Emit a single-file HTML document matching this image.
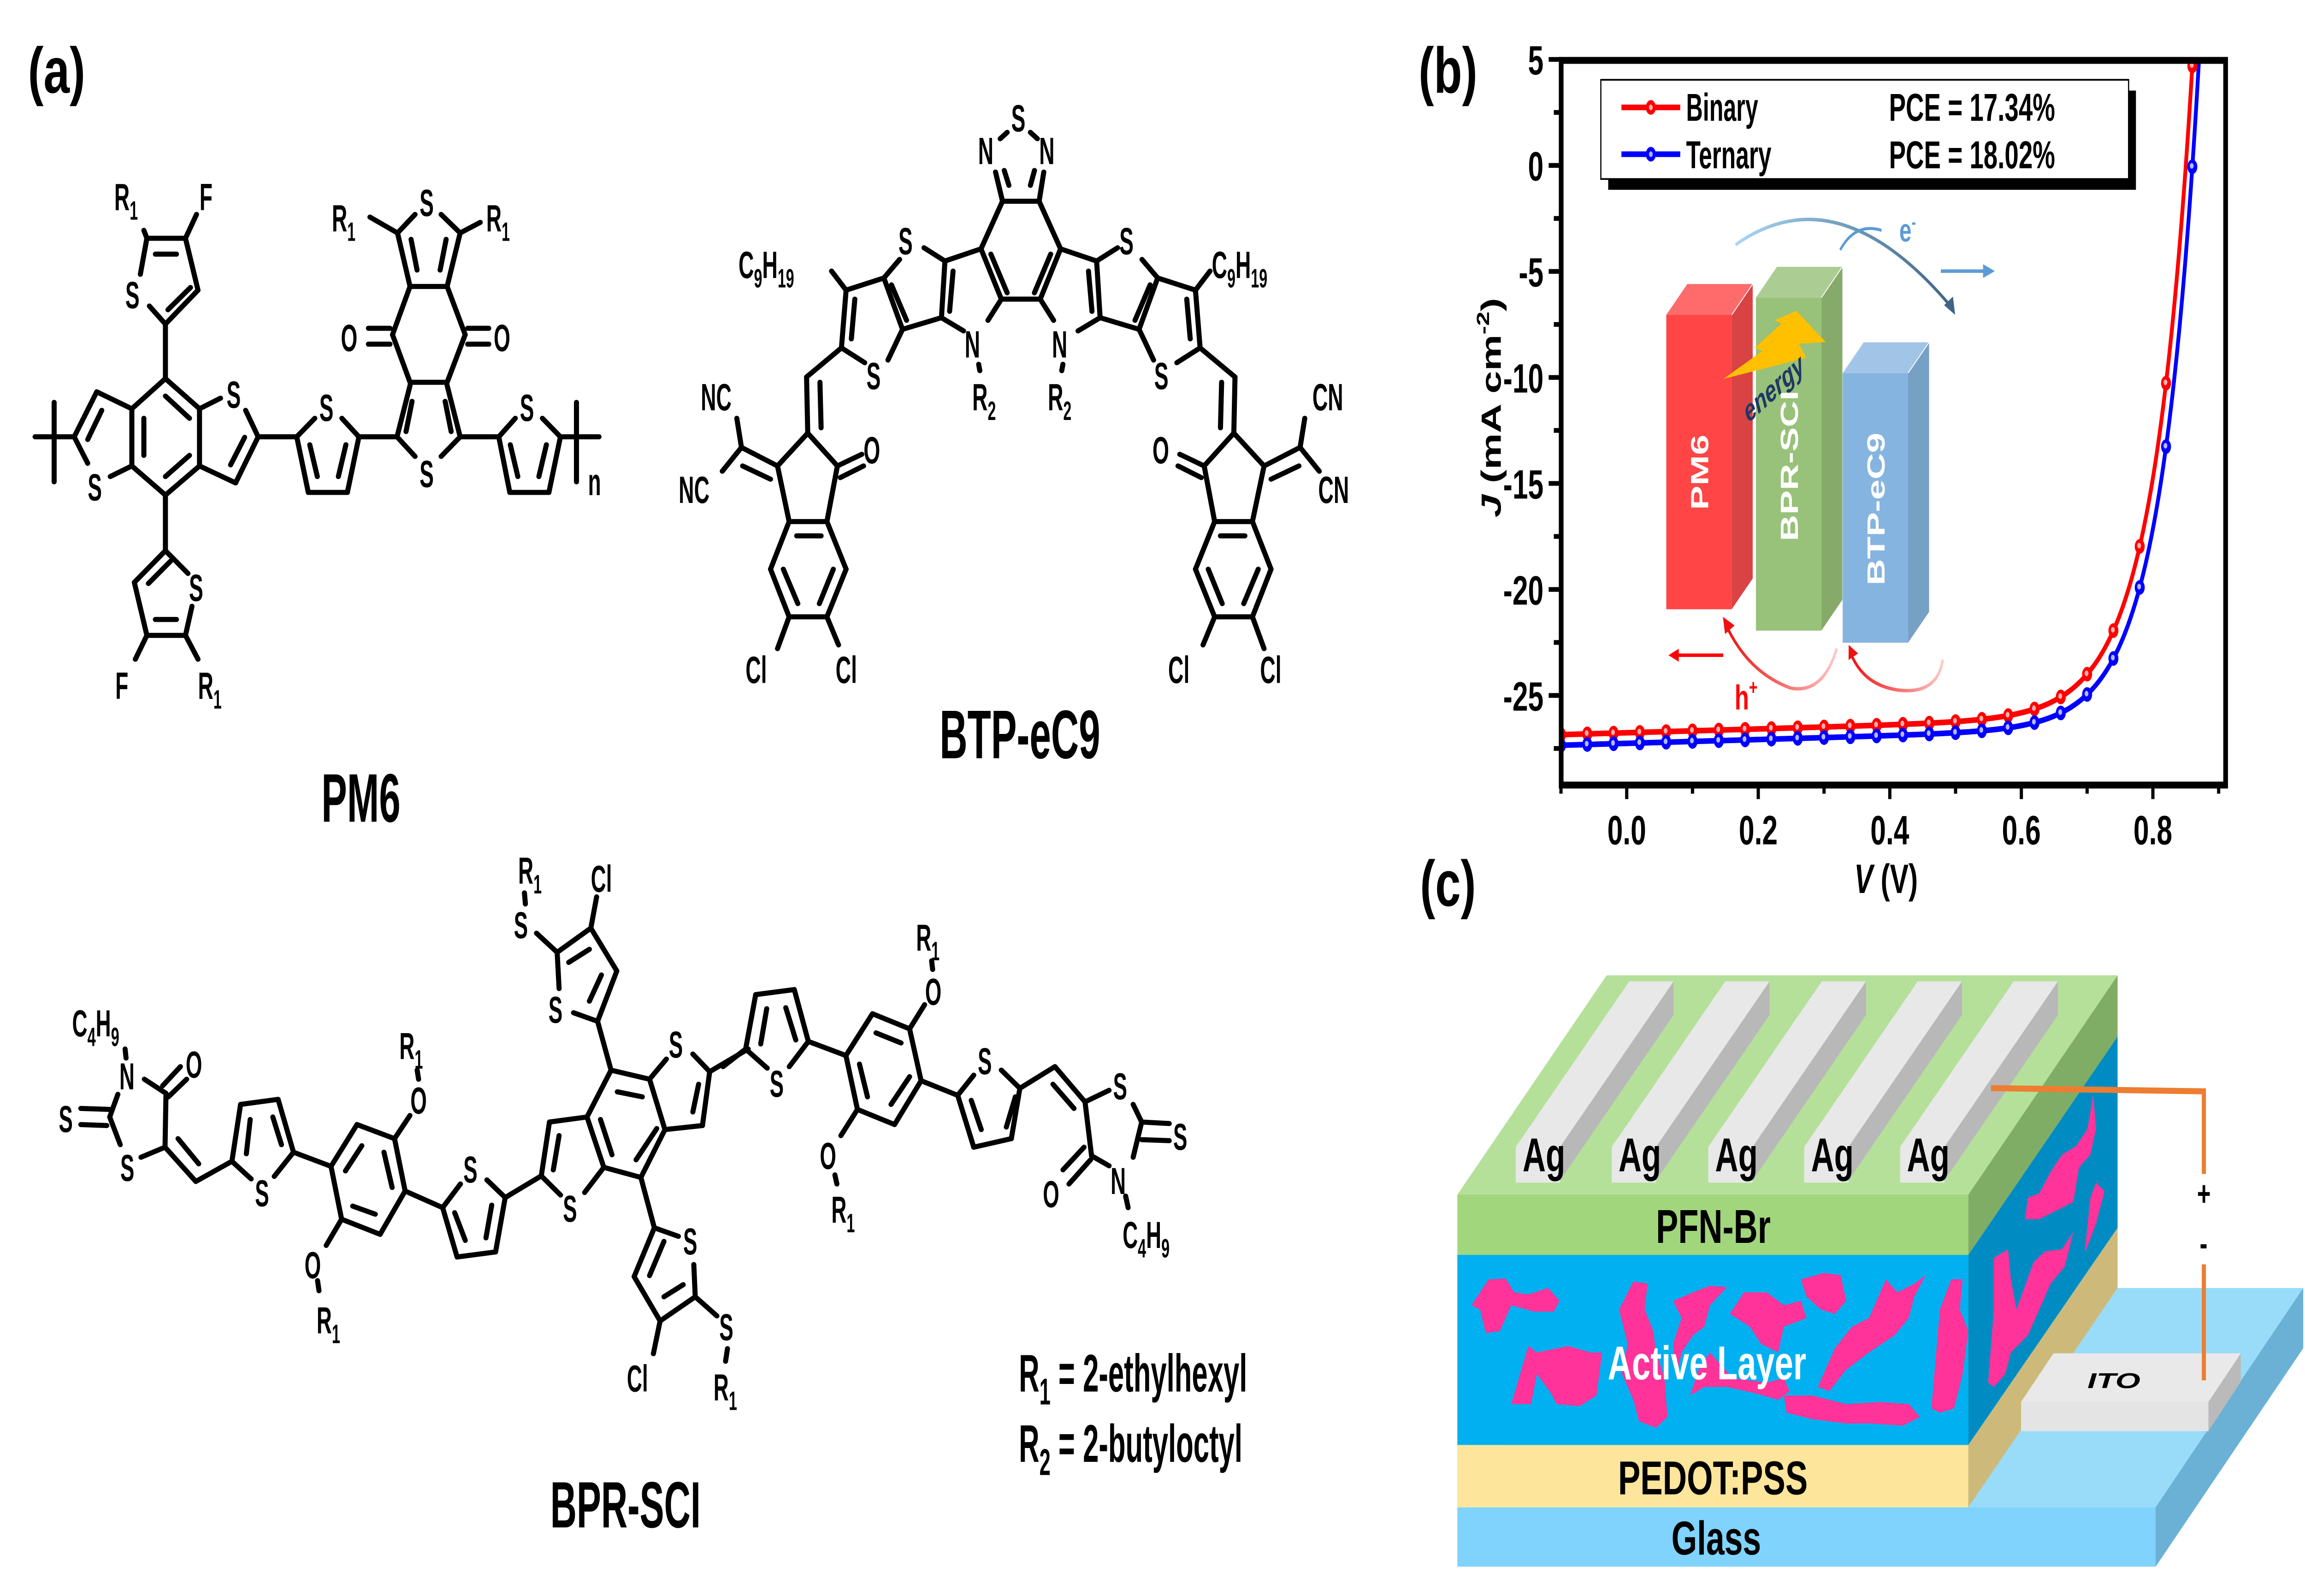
<!DOCTYPE html>
<html><head><meta charset="utf-8">
<style>
html,body{margin:0;padding:0;background:#fff;overflow:hidden;width:100%;height:100%;}
svg{display:block;width:100vw;height:100vh;}
text{font-family:"Liberation Sans",Arial,sans-serif;}
</style></head>
<body>
<svg id="s" xmlns="http://www.w3.org/2000/svg" viewBox="0 0 1568 740" preserveAspectRatio="none">
<rect x="0" y="0" width="1568" height="740" fill="#fff"/>
<defs>
<clipPath id="plotclip"><rect x="1062" y="28" width="452" height="336"/></clipPath>
<linearGradient id="eg" x1="0" y1="0" x2="1" y2="0"><stop offset="0" stop-color="#a8d8f5"/><stop offset="1" stop-color="#3f6485"/></linearGradient>
<linearGradient id="hg1" x1="1" y1="0" x2="0" y2="0"><stop offset="0" stop-color="#ffc8c8"/><stop offset="1" stop-color="#f01010"/></linearGradient>
<linearGradient id="hg2" x1="1" y1="0" x2="0" y2="0"><stop offset="0" stop-color="#ffc8c8"/><stop offset="1" stop-color="#f01010"/></linearGradient>
</defs>

<text x="19" y="43" font-size="30" font-weight="bold" textLength="39" lengthAdjust="spacingAndGlyphs">(a)</text>
<text x="965" y="43" font-size="30" font-weight="bold" textLength="40" lengthAdjust="spacingAndGlyphs">(b)</text>
<text x="966" y="420" font-size="30" font-weight="bold" textLength="38" lengthAdjust="spacingAndGlyphs">(c)</text>

<g id="plot">
<rect x="1094" y="42" width="359" height="46" fill="#000"/>
<rect x="1089" y="37" width="359" height="46" fill="#fff" stroke="#000" stroke-width="0.8"/>
<line x1="1103" y1="49.8" x2="1143" y2="49.8" stroke="#f00" stroke-width="2.6"/>
<circle cx="1123" cy="49.8" r="3.4" fill="#f00"/><circle cx="1123" cy="49.8" r="1.3" fill="#ffb0b0"/>
<line x1="1103" y1="71.5" x2="1143" y2="71.5" stroke="#00f" stroke-width="2.6"/>
<circle cx="1123" cy="71.5" r="3.4" fill="#00f"/><circle cx="1123" cy="71.5" r="1.3" fill="#b0b0ff"/>
<text x="1147" y="56" font-size="18" font-weight="bold" textLength="49" lengthAdjust="spacingAndGlyphs">Binary</text>
<text x="1147" y="78" font-size="18" font-weight="bold" textLength="58" lengthAdjust="spacingAndGlyphs">Ternary</text>
<text x="1285" y="56" font-size="18" font-weight="bold" textLength="113" lengthAdjust="spacingAndGlyphs">PCE = 17.34%</text>
<text x="1285" y="78" font-size="18" font-weight="bold" textLength="113" lengthAdjust="spacingAndGlyphs">PCE = 18.02%</text>

<polygon points="1133.5,146 1147.8,131.7 1192.3,131.7 1178,146" fill="#ff6b6b"/>
<polygon points="1178,146 1192.3,131.7 1192.3,268.2 1178,282.5" fill="#d94343"/>
<rect x="1133.5" y="146" width="44.5" height="136.5" fill="#ff4545"/>
<polygon points="1194.5,138 1208.8,123.7 1253.3,123.7 1239,138" fill="#abcd93"/>
<polygon points="1239,138 1253.3,123.7 1253.3,278.1 1239,292.4" fill="#86aa6a"/>
<rect x="1194.5" y="138" width="44.5" height="154.4" fill="#98c17a"/>
<polygon points="1253.5,173 1267.8,158.7 1312.3,158.7 1298,173" fill="#a2c5e7"/>
<polygon points="1298,173 1312.3,158.7 1312.3,283.7 1298,298" fill="#77a0c5"/>
<rect x="1253.5" y="173" width="44.5" height="125" fill="#86b4e0"/>
<line x1="1178" y1="146" x2="1192.3" y2="131.7" stroke="#fff" stroke-width="0.5"/>
<line x1="1239" y1="138" x2="1253.3" y2="123.7" stroke="#fff" stroke-width="0.5"/>
<line x1="1298" y1="173" x2="1312.3" y2="158.7" stroke="#fff" stroke-width="0.5"/>
<text transform="translate(1162,219) rotate(-90)" font-size="17" font-weight="bold" fill="#fff" text-anchor="middle">PM6</text>
<text transform="translate(1223,216) rotate(-90)" font-size="17" font-weight="bold" fill="#fff" text-anchor="middle">BPR-SCI</text>
<text transform="translate(1282,236) rotate(-90)" font-size="17" font-weight="bold" fill="#fff" text-anchor="middle">BTP-eC9</text>
<polygon points="1172.3,175.7 1198.8,162.8 1193.8,161.2 1212,150 1207,148.5 1222,144.1 1241.9,158.6 1223.7,159.4 1228.7,165.9" fill="#ffc000"/>
<text transform="translate(1209,184) rotate(-32)" font-size="14" font-weight="bold" font-style="italic" fill="#1f3864" text-anchor="middle">energy</text>
<path d="M1180.6,113.5 Q1250,80 1327,142" fill="none" stroke="url(#eg)" stroke-width="1.6"/>
<polygon points="1330,146 1322.5,141.5 1328.5,137.5" fill="#3f6485"/>
<path d="M1251.8,115.9 Q1262,103 1279.9,106.8" fill="none" stroke="#5b9bd5" stroke-width="1.4"/>
<text x="1292" y="112" font-size="15" font-weight="bold" fill="#5b9bd5">e<tspan font-size="9" dy="-6">-</tspan></text>
<line x1="1320.3" y1="125.7" x2="1350" y2="125.7" stroke="#5b9bd5" stroke-width="1.6"/>
<polygon points="1357,125.7 1349,122.5 1349,128.9" fill="#5b9bd5"/>
<path d="M1249.5,300.7 Q1240,322 1218,319 Q1190,312 1175,291" fill="none" stroke="url(#hg1)" stroke-width="1.6"/>
<polygon points="1172,286 1180,290 1173.5,294" fill="#f01010"/>
<path d="M1321.6,305.9 Q1318,322 1292,320 Q1268,318 1259,303" fill="none" stroke="url(#hg2)" stroke-width="1.6"/>
<polygon points="1257.6,299 1264,303 1257.5,306" fill="#f01010"/>
<line x1="1141" y1="303.8" x2="1172.3" y2="303.8" stroke="#f00" stroke-width="1.6"/>
<polygon points="1135,303.8 1142,300.8 1142,306.8" fill="#f00"/>
<text x="1180" y="329" font-size="16" font-weight="bold" fill="#f00">h<tspan font-size="10" dy="-7">+</tspan></text>

<g id="curves" clip-path="url(#plotclip)"></g>
<rect x="1062" y="28" width="452" height="336" fill="none" stroke="#000" stroke-width="3.2"/>
<g id="ticks" stroke="#000" stroke-width="2.2"></g>
<g id="ticklbl" font-size="19" font-weight="bold"></g>
<text transform="translate(1021,189) rotate(-90)" font-size="19" font-weight="bold" text-anchor="middle"><tspan font-style="italic">J</tspan> (mA cm<tspan font-size="12" dy="-8">-2</tspan><tspan dy="8">)</tspan></text>
<text x="1283" y="414" font-size="19" font-weight="bold" text-anchor="middle"><tspan font-style="italic">V</tspan> (V)</text>
</g>

<g transform="matrix(0.3862,0,0,0.1994,962.4,427.7)">
<polygon points="75,1360 1305,1360 1565,850 335,850" fill="#98dcfa"/>
<polygon points="1305,1360 1565,850 1565,990 1305,1498" fill="#6ab1d5"/>
<rect x="75" y="1360" width="1230" height="138" fill="#7fd3fc"/>
<polygon points="975,1360 975,1215 1238,710 1238,850" fill="#cdba7b"/>
<polygon points="975,1215 975,773 1238,265 1238,710" fill="#008cc3"/>
<polygon points="975,773 975,633 1238,123 1238,265" fill="#80ad65"/>
<polygon points="75,633 975,633 1238,123 338,123" fill="#b5e09a"/>
<rect x="75" y="1215" width="900" height="145" fill="#fde59b"/>
<rect x="75" y="773" width="900" height="442" fill="#00b0f0"/>
<rect x="75" y="633" width="900" height="140" fill="#a2d67c"/>
<g id="ag"></g>
<polygon points="1068,1115 1398,1115 1455,1002 1125,1002" fill="#e9e9e9"/>
<polygon points="1398,1183 1398,1115 1455,1002 1455,1068" fill="#bababa"/>
<rect x="1068" y="1115" width="330" height="68" fill="#e4e4e4"/>
<g fill="#ff3399">
<path d="M100,890 L130,830 L160,828 L175,860 L200,865 L235,850 L255,880 L245,905 L210,905 L170,890 L150,950 L125,955 L115,900 Z"/>
<path d="M170,1120 L200,985 L215,1000 L270,985 L310,1000 L330,1000 L320,1100 L290,1125 L250,1120 L240,1095 L215,1050 L205,1120 Z"/>
<path d="M360,900 L385,835 L410,840 L405,900 L420,950 L425,1000 L440,1060 L445,1150 L425,1175 L395,1160 L385,1110 L365,1050 L375,980 Z"/>
<path d="M455,880 L490,860 L520,845 L550,848 L520,890 L510,940 L490,960 L470,1000 L460,1060 L455,980 L470,920 Z"/>
<path d="M555,910 L580,860 L620,860 L650,890 L680,880 L690,920 L650,940 L640,1000 L610,980 L590,940 Z"/>
<path d="M680,830 L720,815 L750,820 L760,880 L740,910 L715,900 L690,870 Z"/>
<path d="M485,1100 L510,1080 L550,1080 L600,1095 L640,1110 L660,1090 L650,1060 L620,1070 L560,1060 L520,1000 L500,1040 Z"/>
<path d="M650,1100 L700,1100 L760,1120 L820,1115 L870,1120 L890,1150 L860,1170 L800,1165 L760,1165 L700,1155 L655,1140 Z"/>
<path d="M710,1080 L740,990 L770,940 L800,920 L830,830 L850,860 L880,840 L900,820 L880,870 L870,920 L845,960 L800,1000 L760,1040 L730,1090 Z"/>
<path d="M910,1130 L925,900 L945,830 L965,830 L960,900 L975,950 L965,1050 L950,1130 L925,1140 Z"/>
<path d="M1010,1070 L1020,900 L1020,780 L1045,760 L1050,830 L1060,900 L1090,790 L1110,765 L1140,760 L1160,720 L1145,800 L1120,840 L1100,900 L1080,960 L1050,1000 L1040,1050 L1020,1080 Z"/>
<path d="M1075,690 L1080,640 L1100,630 L1120,580 L1140,540 L1165,520 L1185,480 L1195,400 L1200,480 L1190,540 L1170,570 L1160,650 L1130,670 L1100,690 Z"/>
<path d="M1180,770 L1190,640 L1200,605 L1215,625 L1200,700 Z"/>
</g>
</g>
<polyline points="1354.4,504.5 1499.2,506 1499.2,544.3" fill="none" stroke="#ed7d31" stroke-width="2.8"/>
<line x1="1499.2" y1="586.2" x2="1499.2" y2="640" stroke="#ed7d31" stroke-width="2.8"/>
<text x="1499.2" y="559" font-size="16" font-weight="bold" text-anchor="middle">+</text>
<text x="1499" y="582" font-size="16" font-weight="bold" text-anchor="middle">-</text>
<g font-weight="bold" font-size="22">
<text x="1126.5" y="576.3" textLength="78" lengthAdjust="spacingAndGlyphs">PFN-Br</text>
<text x="1093.7" y="639.5" textLength="135" lengthAdjust="spacingAndGlyphs" fill="#fff">Active Layer</text>
<text x="1100.7" y="692.9" textLength="129" lengthAdjust="spacingAndGlyphs">PEDOT:PSS</text>
<text x="1137" y="720.8" textLength="61" lengthAdjust="spacingAndGlyphs">Glass</text>
</g>
<text x="1420" y="643.6" font-size="10" font-weight="bold" font-style="italic" textLength="36" lengthAdjust="spacingAndGlyphs">ITO</text>
<g id="agtxt" font-weight="bold" font-size="22"></g>

<g id="chem"></g>

<script>
(function(){
var NS='http://www.w3.org/2000/svg';
var svg=document.getElementById('s');
function el(t,a,p){var e=document.createElementNS(NS,t);for(var k in a)e.setAttribute(k,a[k]);(p||svg).appendChild(e);return e;}
function X(V){return 1106.6+447.4*V;}
function Y(J){return 76.7-9.83*J;}
function Jr(V){return -26.85+0.9*(V+0.1)+26.85*Math.exp((V-0.852)/0.06);}
function Jb(V){return -27.35+0.9*(V+0.1)+27.35*Math.exp((V-0.862)/0.058);}
var cg=document.getElementById('curves');
var sets=[[Jr,'#f00','#ffb0b0'],[Jb,'#00f','#b8b8ff']];
sets.forEach(function(c){
  var d='';for(var V=-0.1;V<0.95;V+=0.002){var J=c[0](V);d+=(d?'L':'M')+X(V).toFixed(2)+','+Y(J).toFixed(2);if(J>8)break;}
  el('path',{d:d,fill:'none',stroke:c[1],'stroke-width':2.6},cg);
});
sets.forEach(function(c){
  for(var k=0;k<30;k++){var V=-0.1+0.04*k;var J=c[0](V);if(J>6)break;
    el('circle',{cx:X(V),cy:Y(J),r:3.4,fill:c[1]},cg);el('circle',{cx:X(V)-0.4,cy:Y(J)-0.4,r:1.3,fill:c[2]},cg);}
});
var tk=document.getElementById('ticks'),tl=document.getElementById('ticklbl');
for(var j=5;j>=-27.5;j-=2.5){var y=Y(j);var maj=(Math.round(j*2)%10===0);
  el('line',{x1:1062,y1:y,x2:maj?1053.5:1057,y2:y},tk);
  if(maj){var t=el('text',{x:1050,y:y+7,'text-anchor':'end'},tl);t.textContent=String(j);}}
for(var i=-1;i<=9;i++){var vv=i/10;var x=X(vv);var maj=(i%2===0);
  el('line',{x1:x,y1:364,x2:x,y2:maj?370.5:368},tk);
  if(maj&&i>=0){var t=el('text',{x:x,y:391.5,'text-anchor':'middle'},tl);t.textContent=vv.toFixed(1);}}
var ag=document.getElementById('ag'),agt=document.getElementById('agtxt');
[178,347,517,686,855].forEach(function(b){
  el('polygon',{points:[b,522,b+200,137,b+278,137,b+78,522].join(' '),fill:'#e8e8e8'},ag);
  el('polygon',{points:[b+78,522,b+278,137,b+278,215,b+78,600].join(' '),fill:'#b8b8b8'},ag);
  el('rect',{x:b,y:522,width:78,height:83,fill:'#e8e8e8'},ag);
  var t=el('text',{x:(962.4+(b+12)*0.3862).toFixed(1),y:543,textLength:29,lengthAdjust:'spacingAndGlyphs'},agt);t.textContent='Ag';
});
var chem=document.getElementById('chem');
function G(m){return el('g',{transform:'matrix('+m.join(' ')+')'},chem);}
function B(g,L){L.forEach(function(l){el('line',{x1:l[0],y1:l[1],x2:l[2],y2:l[3],stroke:'#000','stroke-width':11,'vector-effect':'non-scaling-stroke','stroke-linecap':'round'},g);});}
function T(g,x,y,s,fs,sx,anchor){
  var a={transform:'translate('+x+' '+y+') scale('+sx+' 1)','font-size':fs,'font-weight':'bold'};
  if(anchor)a['text-anchor']=anchor;
  var t=el('text',a,g);
  var parts=s.split(/(_\d+)/);var down=false;var off=Math.round(fs*0.25);
  parts.forEach(function(p){ if(!p)return;
    var ts=document.createElementNS(NS,'tspan');
    if(p.charAt(0)==='_'){ts.setAttribute('font-size',Math.round(fs*0.7));ts.setAttribute('dy',off);ts.textContent=p.slice(1);down=true;}
    else{ if(down){ts.setAttribute('dy',-off);down=false;} ts.textContent=p;}
    t.appendChild(ts);});
  return t;}

var g4=G([0.341,0,0,0.2455,0,0]);
B(g4,[[293,450,370,450],[310,480,352,480],[370,450,395,548],[395,548,330,612],[335,585,380,543],[330,612,298,578],[280,518,293,450],[293,450,287,435],[370,450,392,405],
[330,612,330,715],[330,715,398,772],[398,772,398,880],[398,880,330,935],[330,935,263,880],[263,880,263,772],[263,772,330,715],[330,748,378,790],[287,790,287,860],[330,900,378,860],
[398,772,440,752],[490,775,515,825],[515,825,470,912],[470,912,398,880],[488,826,460,878],
[263,772,193,740],[193,740,148,825],[203,775,175,830],[148,825,175,875],[220,900,263,880],
[108,760,108,910],[70,825,148,825],[515,825,592,825],
[592,825,628,790],[682,790,716,825],[716,825,693,930],[693,930,615,930],[615,930,592,825],[618,840,633,900],[690,840,675,900],
[716,825,792,825],[792,825,818,728],[918,825,892,728],[792,825,828,862],[880,862,918,825],[822,758,810,815],[888,758,900,815],[818,722,892,722],
[818,722,783,632],[783,632,818,541],[818,541,892,541],[892,541,928,632],[928,632,892,722],
[735,620,778,620],[735,650,778,650],[933,620,975,620],[933,650,975,650],
[818,541,793,440],[892,541,918,440],[793,440,828,405],[880,405,918,440],[820,452,832,510],[890,452,878,510],[793,440,738,410],[918,440,958,420],
[918,825,995,825],[995,825,1028,790],[1082,790,1118,825],[1118,825,1095,930],[1095,930,1017,930],[1017,930,995,825],[1018,840,1033,900],[1090,840,1075,900],
[1118,825,1195,825],[1150,760,1150,910],
[330,935,330,1040],[330,1040,375,1083],[383,1145,370,1200],[370,1200,293,1200],[310,1170,352,1170],[293,1200,268,1100],[268,1100,330,1040],[296,1102,340,1060],[293,1200,270,1245],[370,1200,395,1245]]);
var s4=0.59,f=72;
T(g4,228,397,'R_1',f,s4);T(g4,398,397,'F',f,s4);T(g4,250,582,'S',f,s4);T(g4,452,770,'S',f,s4);T(g4,175,945,'S',f,s4);
T(g4,637,795,'S',f,s4);T(g4,837,408,'S',f,s4);T(g4,837,920,'S',f,s4);T(g4,1037,795,'S',f,s4);
T(g4,680,663,'O',f,s4);T(g4,985,663,'O',f,s4);T(g4,662,437,'R_1',f,s4);T(g4,970,437,'R_1',f,s4);
T(g4,377,1135,'S',f,s4);T(g4,230,1320,'F',f,s4);T(g4,395,1320,'R_1',f,s4);T(g4,1173,935,'n',f,s4);
T(g4,720,1552,'PM6',130,s4,'middle');

var g5=G([0.3955,0,0,0.2455,406.3,0]);
var g5m=G([-0.3955,0,0,0.2455,982.5,0]);
B(g5,[[685,325,697,380],[768,325,760,380],[700,322,708,350],[752,322,745,350],[697,380,760,380],[695,565,760,565],[693,262,705,250],[745,250,757,262]]);
var half=[[697,380,660,470],[660,470,695,565],[677,480,705,553],[695,565,672,605],[630,625,592,600],[592,600,598,493],[598,493,660,470],[612,512,606,588],[598,493,562,468],[520,490,493,525],[493,525,525,622],[506,538,532,605],[525,622,592,600],[493,525,428,548],[428,548,420,657],[443,565,437,640],[420,657,460,685],[500,680,525,622],[428,548,403,512],[656,688,658,700],[420,657,360,712],[360,712,362,818],[383,722,385,808],[362,818,310,880],[362,818,413,880],[413,880,455,858],[418,902,458,880],[310,880,330,985],[413,880,395,985],[330,985,395,985],[343,1012,385,1012],[395,985,428,1075],[428,1075,395,1165],[395,1165,330,1165],[330,1165,298,1075],[298,1075,330,985],[320,1075,345,1140],[406,1075,382,1140],[330,1165,310,1225],[395,1165,415,1218],[310,880,248,845],[298,905,250,880],[248,845,240,790],[248,845,215,890]];
B(g5,half);B(g5m,half);
var s5=0.51;
T(g5,655,310,'N',f,s5);T(g5,712,248,'S',f,s5);T(g5,760,310,'N',f,s5);
T(g5,518,480,'S',f,s5);T(g5,463,735,'S',f,s5);T(g5,632,675,'N',f,s5);T(g5,645,775,'R_2',f,s5);
T(g5,243,525,'C_9H_19',f,s5);T(g5,178,775,'NC',f,s5);T(g5,140,950,'NC',f,s5);T(g5,458,875,'O',f,s5);
T(g5,255,1290,'Cl',f,s5);T(g5,410,1290,'Cl',f,s5);
T(g5,898,480,'S',f,s5);T(g5,958,735,'S',f,s5);T(g5,782,675,'N',f,s5);T(g5,775,775,'R_2',f,s5);
T(g5,1057,525,'C_9H_19',f,s5);T(g5,1230,775,'CN',f,s5);T(g5,1240,950,'CN',f,s5);T(g5,955,875,'O',f,s5);
T(g5,982,1290,'Cl',f,s5);T(g5,1140,1290,'Cl',f,s5);
T(g5,727,1432,'BTP-eC9',130,s5,'middle');

var g6=G([0.3273,0,0,0.2335,0,374.3]);
B(g6,[[300,540,345,568],[338,553,375,515],[350,575,388,540],[345,568,343,675],[343,675,293,695],[250,670,228,615],[228,615,245,570],[168,598,228,600],[168,630,222,632],[262,498,260,480],
[343,675,407,743],[370,658,413,708],[407,743,482,703],
[482,703,500,590],[500,590,578,580],[578,580,610,685],[610,685,570,733],[522,738,482,703],[512,688,520,620],[567,615,585,670],
[610,685,688,713],
[688,713,742,630],[742,630,820,658],[820,658,842,762],[842,762,790,848],[790,848,710,818],[710,818,688,713],[718,722,752,672],[798,685,815,755],[733,792,780,808],[820,658,852,612],[870,540,867,522],[710,818,678,870],[660,940,663,960],
[842,762,920,795],
[920,795,957,748],[1012,740,1050,775],[1050,775,1030,883],[1030,883,950,893],[950,893,920,795],[945,805,967,860],[1022,790,1010,855],
[1050,775,1125,732],
[1125,732,1165,770],[1215,765,1255,715],[1220,615,1142,625],[1142,625,1125,732],[1162,652,1150,720],
[1220,615,1270,522],[1270,522,1350,540],[1350,540,1382,640],[1382,640,1332,735],[1332,735,1255,715],[1255,715,1220,615],[1283,565,1335,575],[1365,638,1322,700],[1248,620,1272,690],
[1350,540,1385,500],[1440,490,1475,525],[1475,525,1460,632],[1460,632,1382,640],[1452,550,1440,605],[1475,525,1555,480],
[1270,522,1242,425],[1242,425,1192,408],[1162,360,1158,288],[1158,288,1228,240],[1182,308,1225,282],[1228,240,1282,325],[1282,325,1242,425],[1250,333,1225,385],[1228,240,1240,178],[1158,288,1115,250],[1092,192,1090,170],
[1332,735,1360,835],[1360,835,1410,852],[1442,908,1445,972],[1445,972,1372,1020],[1380,972,1420,948],[1372,1020,1318,932],[1318,932,1360,835],[1350,930,1380,862],[1372,1020,1358,1085],[1445,972,1490,1010],[1512,1075,1508,1100]]);
var s6=0.585,f6=75;
T(g6,150,455,'C_4H_9',f6,s6);T(g6,248,560,'N',f6,s6);T(g6,386,537,'O',f6,s6);T(g6,122,645,'S',f6,s6);T(g6,250,742,'S',f6,s6);
T(g6,530,792,'S',f6,s6);T(g6,853,608,'O',f6,s6);T(g6,830,500,'R_1',f6,s6);T(g6,633,935,'O',f6,s6);T(g6,658,1045,'R_1',f6,s6);
T(g6,963,745,'S',f6,s6);T(g6,1170,823,'S',f6,s6);T(g6,1390,497,'S',f6,s6);T(g6,1140,428,'S',f6,s6);
T(g6,1228,168,'Cl',f6,s6);T(g6,1068,260,'S',f6,s6);T(g6,1077,152,'R_1',f6,s6);
T(g6,1420,888,'S',f6,s6);T(g6,1303,1160,'Cl',f6,s6);T(g6,1495,1058,'S',f6,s6);T(g6,1483,1178,'R_1',f6,s6);
T(g6,1300,1430,'BPR-SCI',130,s6,'middle');

var g7=G([0.341,0,0,0.2335,491.9,374.3]);
B(g7,[[0,515,45,480],[45,480,88,518],[132,515,170,465],[170,465,142,362],[142,362,65,372],[65,372,45,480],[75,470,87,400],[125,398,145,462],
[170,465,245,493],
[245,493,298,410],[298,410,372,440],[372,440,395,543],[395,543,342,630],[342,630,268,600],[268,600,245,493],[305,448,355,468],[272,510,288,575],[335,590,372,535],[372,440,402,392],[418,322,416,305],[268,600,235,652],[223,730,227,748],
[395,543,468,572],
[468,572,500,532],[555,522,592,558],[592,558,575,658],[575,658,500,675],[500,675,468,572],[495,582,515,640],[583,575,565,635],
[592,558,662,515],[662,515,722,585],[658,550,700,598],
[722,585,770,562],[818,590,835,625],[835,625,818,695],[770,712,735,692],[735,692,722,585],[835,625,890,628],[835,660,890,662],[720,675,678,720],[733,700,690,748],[803,772,808,795]]);
var s7=0.56;
T(g7,93,575,'S',f6,s7);T(g7,385,285,'R_1',f6,s7);T(g7,403,392,'O',f6,s7);T(g7,193,718,'O',f6,s7);T(g7,216,825,'R_1',f6,s7);
T(g7,508,530,'S',f6,s7);T(g7,778,580,'S',f6,s7);T(g7,898,680,'S',f6,s7);T(g7,773,768,'N',f6,s7);T(g7,638,794,'O',f6,s7);T(g7,797,875,'C_4H_9',f6,s7);
T(g7,590,1160,'R_1 = 2-ethylhexyl',105,0.54);
T(g7,590,1300,'R_2 = 2-butyloctyl',105,0.54);
})();
</script>
</svg>
</body></html>
